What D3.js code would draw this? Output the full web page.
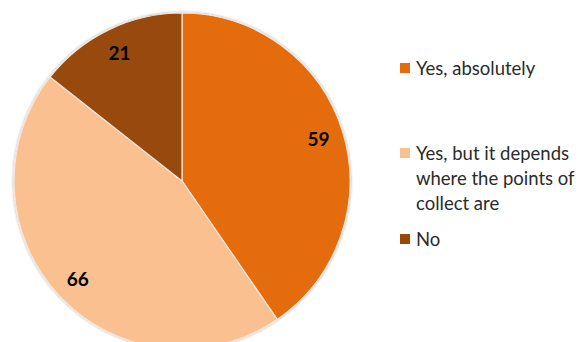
<!DOCTYPE html>
<html>
<head>
<meta charset="utf-8">
<script src="https://cdn.jsdelivr.net/npm/d3@7"></script>
<style>
  html, body { margin: 0; padding: 0; background: #fff; overflow: hidden; }
  svg { display: block; }
</style>
</head>
<body>
<svg id="chart" width="581" height="342"></svg>
<script>
// Survey answers
const categories = ["Yes, absolutely", "Yes, but it depends where the points of collect are", "No"];
const values = [59, 66, 21];
const colors = ["#E46C0A", "#FAC090", "#984807"];
const legendLines = [["Yes, absolutely"], ["Yes, but it depends", "where the points of", "collect are"], ["No"]];

const svg = d3.select("#chart");
const cx = 182, cy = 181, radius = 168;

const data = categories.map((c, i) => ({ name: c, value: values[i], color: colors[i], lines: legendLines[i] }));

const pie = d3.pie().value(d => d.value).sort(null);
const arc = d3.arc().innerRadius(0).outerRadius(radius);
const labelArc = d3.arc().innerRadius(143).outerRadius(143);

const defs = svg.append("defs");
const shadow = defs.append("filter").attr("id", "soft").attr("x", "-10%").attr("y", "-10%").attr("width", "120%").attr("height", "120%");
shadow.append("feGaussianBlur").attr("in", "SourceAlpha").attr("stdDeviation", 1.5);
shadow.append("feOffset").attr("dx", 0).attr("dy", 0).attr("result", "b");
shadow.append("feComponentTransfer").append("feFuncA").attr("type", "linear").attr("slope", 0.35);
const merge = shadow.append("feMerge");
merge.append("feMergeNode");
merge.append("feMergeNode").attr("in", "SourceGraphic");

const g = svg.append("g").attr("transform", `translate(${cx},${cy})`);
const arcs = pie(data);

g.append("g").attr("filter", "url(#soft)")
  .selectAll("path").data(arcs).join("path")
  .attr("d", arc)
  .attr("fill", d => d.data.color)
  .attr("stroke", "#f4e6da")
  .attr("stroke-width", 1.2);

g.selectAll("text.val").data(arcs).join("text")
  .attr("class", "val")
  .attr("transform", d => `translate(${labelArc.centroid(d)})`)
  .attr("text-anchor", "middle")
  .attr("dominant-baseline", "central")
  .attr("font-family", "Lato, 'Open Sans', sans-serif")
  .attr("font-weight", "bold")
  .attr("font-size", 19)
  .attr("fill", "#000")
  .text(d => d.data.value);

// Legend
const legendY = [68, 153, 239];
const lineH = 25;
const legend = svg.append("g");
data.forEach((d, i) => {
  const y = legendY[i];
  legend.append("rect")
    .attr("x", 400).attr("y", y - 5).attr("width", 10).attr("height", 10)
    .attr("fill", d.color);
  d.lines.forEach((line, j) => {
    legend.append("text")
      .attr("x", 416).attr("y", y + j * lineH)
      .attr("dominant-baseline", "central")
      .attr("font-family", "Lato, 'Open Sans', sans-serif")
      .attr("font-size", 18.5)
      .attr("fill", "#2b2b2b")
      .text(line);
  });
});
</script>
</body>
</html>
